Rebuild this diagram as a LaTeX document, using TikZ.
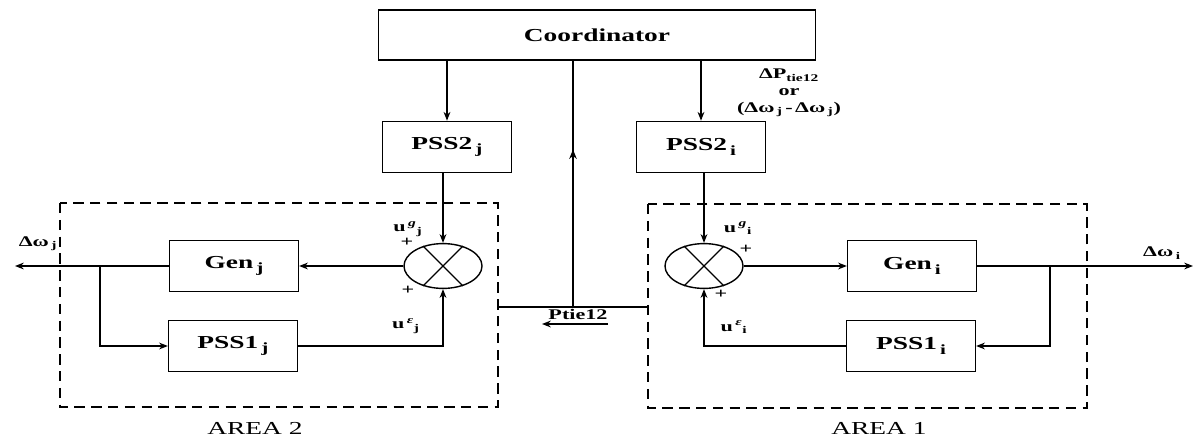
\documentclass[tikz,border=0pt]{standalone}
\usepackage{fontspec}
\setmainfont{Liberation Serif}[FakeStretch=1.5]
\usetikzlibrary{shapes.geometric,arrows.meta,decorations.markings}
\newcommand\lowidx[1]{\,\raisebox{-0.5ex}{\fontsize{10}{10}\selectfont #1}}
\begin{document}
\begin{tikzpicture}[x=0.025cm, y=-0.025cm, line width=0.9pt,
    >={Stealth[length=2.2mm,width=1.7mm]},
    box/.style={draw, line width=1pt, minimum width=3.22cm, minimum height=1.28cm,
      font=\fontsize{13}{15}\selectfont\bfseries},
    sum/.style={draw, ellipse, line width=1pt, minimum width=1.95cm, minimum height=1.12cm, inner sep=0pt},
    area/.style={draw, dash pattern=on 2.6mm off 1.6mm, line width=1.1pt},
    lbl/.style={font=\fontsize{10.5}{12}\selectfont\bfseries, inner sep=1pt},
    midtip/.style={postaction={decorate}, decoration={markings,
      mark=at position #1 with {\arrow{Stealth[length=2.4mm,width=1.9mm]}}}}]
  \useasboundingbox (0,0) rectangle (1198,441);
  % coordinator
  \node[box, minimum width=10.92cm, minimum height=1.25cm] (coord) at (597,35) {Coordinator};
  \node[box] (pssTwoJ) at (447,147) {PSS2\lowidx{j}};
  \node[box] (pssTwoI) at (701,147) {PSS2\lowidx{i}};
  \node[lbl, align=center] (tieSig) at (789,93)
    {ΔP\textsubscript{tie12}\\ or\\ (Δω\,\textsubscript{j}\,-\,Δω\,\textsubscript{j})};
  % area 2
  \draw[area] (60,203) rectangle (498,407);
  \node[box] (genJ) at (234,266) {Gen\lowidx{j}};
  \node[box] (pssOneJ) at (233,346) {PSS1\lowidx{j}};
  \node[sum] (sumJ) at (443,266) {};
  \draw (sumJ.45) -- (sumJ.225) (sumJ.135) -- (sumJ.315);
  \coordinate (brJ) at (100,266);
  \coordinate (outJ) at (15,266);
  \node[lbl] (dwJ) at (38,244) {Δω\,\textsubscript{j}};
  \node[lbl] (ugJ) at (408,229) {u\,\textsuperscript{\itshape g}\textsubscript{j}};
  \node[lbl] (ueJ) at (406,326) {u\,\textsuperscript{\itshape ε}\textsubscript{j}};
  \node[lbl] (pJa) at (407,242) {+};
  \node[lbl] (pJb) at (408,290) {+};
  \node[font=\fontsize{13}{15}\selectfont] (areaTwo) at (255,428) {AREA 2};
  % area 1
  \draw[area] (648,204) rectangle (1087,408);
  \node[box] (genI) at (912,266) {Gen\lowidx{i}};
  \node[box] (pssOneI) at (911,346) {PSS1\lowidx{i}};
  \node[sum] (sumI) at (704,266) {};
  \draw (sumI.45) -- (sumI.225) (sumI.135) -- (sumI.315);
  \coordinate (brI) at (1050,266);
  \coordinate (outI) at (1193,266);
  \node[lbl] (dwI) at (1162,253) {Δω\,\textsubscript{i}};
  \node[lbl] (ugI) at (738,228) {u\,\textsuperscript{\itshape g}\textsubscript{i}};
  \node[lbl] (ueI) at (734,327) {u\,\textsuperscript{\itshape ε}\textsubscript{i}};
  \node[lbl] (pIa) at (746,249) {+};
  \node[lbl] (pIb) at (721,294) {+};
  \node[font=\fontsize{13}{15}\selectfont] (areaOne) at (879,428) {AREA 1};
  % tie line
  \coordinate (tieL) at (498,307);
  \coordinate (tieR) at (648,307);
  \coordinate (tieM) at (573,307);
  \coordinate (pA) at (608,324);
  \coordinate (pB) at (542,324);
  \node[lbl] (ptie) at (578,314) {Ptie12};
  % signals
  \draw[->] (coord.south -| pssTwoJ) -- (pssTwoJ);
  \draw[->] (coord.south -| pssTwoI) -- (pssTwoI);
  \draw[->] (pssTwoJ.south -| sumJ) -- (sumJ.north);
  \draw[->] (pssTwoI.south -| sumI) -- (sumI.north);
  \draw[->] (sumJ.west) -- (genJ.east);
  \draw[->] (genJ.west) -- (outJ);
  \draw[->] (brJ) |- (pssOneJ.west);
  \draw[->] (pssOneJ.east) -| (sumJ.south);
  \draw[->] (sumI.east) -- (genI.west);
  \draw[->] (genI.east) -- (outI);
  \draw[->] (brI) |- (pssOneI.east);
  \draw[->] (pssOneI.west) -| (sumI.south);
  \draw (tieL) -- (tieR);
  \draw[midtip=0.64] (tieM) -- (tieM |- coord.south);
  \draw[->, line width=1.2pt] (pA) -- (pB);
\end{tikzpicture}
\end{document}
